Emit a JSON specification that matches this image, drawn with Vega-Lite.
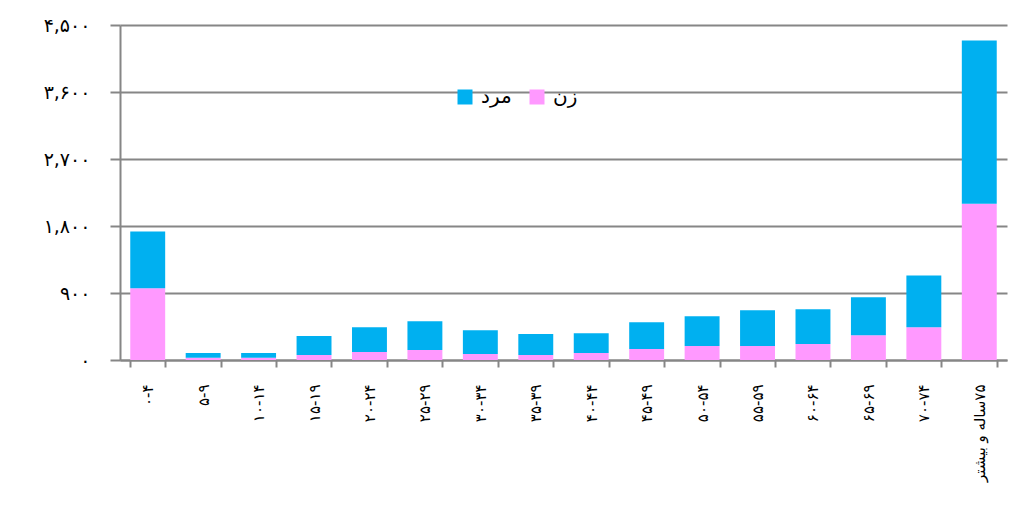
{
  "$schema": "https://vega.github.io/schema/vega-lite/v6.json",
  "width": 887,
  "height": 335,
  "autosize": {"type": "none"},
  "padding": {"left": 120, "top": 25, "right": 3, "bottom": 165},
  "background": "white",
  "config": {"view": {"stroke": null}},
  "data": {
    "values": [
      {"age": "۰-۴", "sex": "زن", "value": 963},
      {"age": "۰-۴", "sex": "مرد", "value": 762},
      {"age": "۵-۹", "sex": "زن", "value": 30},
      {"age": "۵-۹", "sex": "مرد", "value": 64},
      {"age": "۱۰-۱۴", "sex": "زن", "value": 30},
      {"age": "۱۰-۱۴", "sex": "مرد", "value": 64},
      {"age": "۱۵-۱۹", "sex": "زن", "value": 67},
      {"age": "۱۵-۱۹", "sex": "مرد", "value": 254},
      {"age": "۲۰-۲۴", "sex": "زن", "value": 107},
      {"age": "۲۰-۲۴", "sex": "مرد", "value": 334},
      {"age": "۲۵-۲۹", "sex": "زن", "value": 134},
      {"age": "۲۵-۲۹", "sex": "مرد", "value": 387},
      {"age": "۳۰-۳۴", "sex": "زن", "value": 80},
      {"age": "۳۰-۳۴", "sex": "مرد", "value": 321},
      {"age": "۳۵-۳۹", "sex": "زن", "value": 67},
      {"age": "۳۵-۳۹", "sex": "مرد", "value": 281},
      {"age": "۴۰-۴۴", "sex": "زن", "value": 94},
      {"age": "۴۰-۴۴", "sex": "مرد", "value": 267},
      {"age": "۴۵-۴۹", "sex": "زن", "value": 147},
      {"age": "۴۵-۴۹", "sex": "مرد", "value": 361},
      {"age": "۵۰-۵۴", "sex": "زن", "value": 187},
      {"age": "۵۰-۵۴", "sex": "مرد", "value": 401},
      {"age": "۵۵-۵۹", "sex": "زن", "value": 187},
      {"age": "۵۵-۵۹", "sex": "مرد", "value": 481},
      {"age": "۶۰-۶۴", "sex": "زن", "value": 214},
      {"age": "۶۰-۶۴", "sex": "مرد", "value": 468},
      {"age": "۶۵-۶۹", "sex": "زن", "value": 334},
      {"age": "۶۵-۶۹", "sex": "مرد", "value": 508},
      {"age": "۷۰-۷۴", "sex": "زن", "value": 441},
      {"age": "۷۰-۷۴", "sex": "مرد", "value": 695},
      {"age": "\u200f۷۵ساله و بیشتر", "sex": "زن", "value": 2099},
      {"age": "\u200f۷۵ساله و بیشتر", "sex": "مرد", "value": 2193}
    ]
  },
  "transform": [{"calculate": "datum.sex === 'زن' ? 0 : 1", "as": "ord"}],
  "mark": {"type": "bar"},
  "encoding": {
    "x": {
      "field": "age",
      "type": "nominal",
      "sort": null,
      "scale": {"paddingInner": 0.37, "paddingOuter": 0.185},
      "axis": {
        "title": null,
        "labelAngle": -90,
        "labelFont": "DejaVu Sans",
        "labelFontSize": 15,
        "labelColor": "black",
        "labelPadding": 17,
        "tickBand": "extent",
        "tickSize": 7,
        "tickColor": "#868686",
        "tickWidth": 2,
        "domainColor": "#868686",
        "domainWidth": 2,
        "grid": false
      }
    },
    "y": {
      "field": "value",
      "type": "quantitative",
      "stack": "zero",
      "scale": {"domain": [0, 4500], "nice": false},
      "axis": {
        "title": null,
        "values": [0, 900, 1800, 2700, 3600, 4500],
        "labelExpr": "replace(replace(replace(replace(replace(replace(replace(replace(replace(replace(format(datum.value, ','), regexp('0','g'), '۰'), regexp('1','g'), '۱'), regexp('2','g'), '۲'), regexp('3','g'), '۳'), regexp('4','g'), '۴'), regexp('5','g'), '۵'), regexp('6','g'), '۶'), regexp('7','g'), '۷'), regexp('8','g'), '۸'), regexp('9','g'), '۹')",
        "labelFont": "DejaVu Sans",
        "labelFontSize": 19,
        "labelColor": "black",
        "labelPadding": 20,
        "tickSize": 10,
        "tickColor": "#868686",
        "tickWidth": 2,
        "domainColor": "#868686",
        "domainWidth": 2,
        "grid": true,
        "gridColor": "#868686",
        "gridWidth": 2,
        "gridOpacity": 1
      }
    },
    "color": {
      "field": "sex",
      "type": "nominal",
      "scale": {"domain": ["مرد", "زن"], "range": ["#00B0F0", "#FF99FF"]},
      "legend": {
        "title": null,
        "orient": "none",
        "legendX": 335,
        "legendY": 62,
        "direction": "horizontal",
        "symbolType": "square",
        "symbolSize": 225,
        "symbolStrokeWidth": 0,
        "labelFont": "DejaVu Sans",
        "labelFontSize": 20,
        "labelColor": "black",
        "labelOffset": 6,
        "columnPadding": 15
      }
    },
    "order": {"field": "ord", "type": "quantitative"}
  }
}
